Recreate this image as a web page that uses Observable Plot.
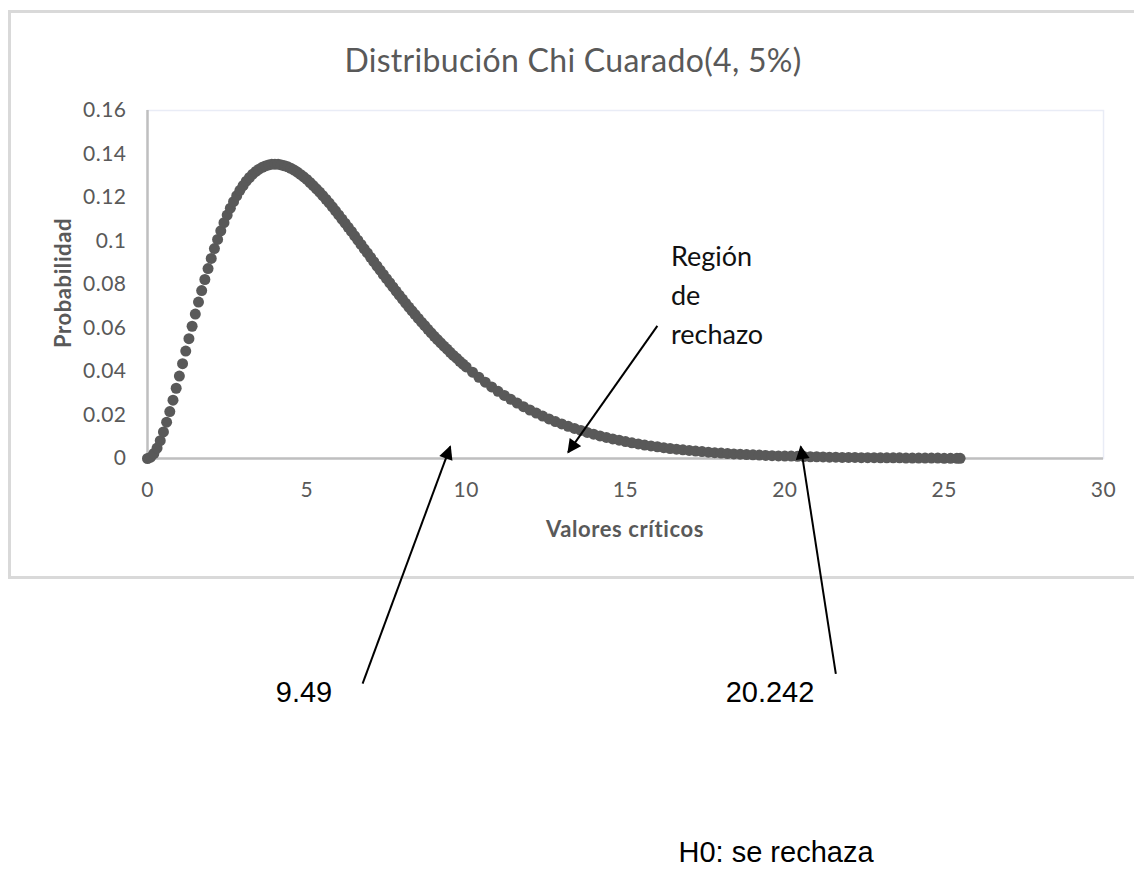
<!DOCTYPE html>
<html>
<head>
<meta charset="utf-8">
<script src="https://cdn.jsdelivr.net/npm/d3@7"></script>
<script src="https://cdn.jsdelivr.net/npm/@observablehq/plot@0.6"></script>
<style>
  html, body { margin: 0; padding: 0; background: #fff; }
  #wrap { position: relative; width: 1134px; height: 889px; overflow: hidden; font-family: Lato, "Open Sans", sans-serif; }
  #wrap svg { position: absolute; left: 0; top: 0; }
  .box { position: absolute; left: 8px; top: 10px; width: 1140px; height: 569px; border: 3px solid #d9d9d9; border-right: none; box-sizing: border-box; }
  .lbl { position: absolute; white-space: nowrap; }
  .title { left: 0; width: 1146px; top: 40px; text-align: center; font-size: 32px; color: #595959; letter-spacing: 0.3px; }
  .xtitle { left: 147px; width: 956px; top: 515px; text-align: center; font-size: 22px; font-weight: bold; color: #595959; letter-spacing: 0.6px; }
  .ytitle { left: 62px; top: 283px; transform: translate(-50%, -50%) rotate(-90deg); font-size: 22px; font-weight: bold; color: #595959; letter-spacing: 0.6px; }
  .region { left: 671px; top: 236px; font-size: 27px; line-height: 39px; color: #111; }
  .crit { font-family: "Liberation Sans", Arial, sans-serif; font-size: 29px; color: #000; transform: translate(-50%, -50%); }
</style>
</head>
<body>
<div id="wrap">
  <div class="box"></div>
</div>
<script>
// Chi-square curve (x = critical values, y = probability)
const xValues = [
  0,0.1,0.2,0.3,0.4,0.5,0.6,0.7,0.8,0.9,1.0,1.1,1.2,1.3,1.4,1.5,1.6,1.7,1.8,1.9,
  2.0,2.1,2.2,2.3,2.4,2.5,2.6,2.7,2.8,2.9,3.0,3.1,3.2,3.3,3.4,3.5,3.6,3.7,3.8,3.9,
  4.0,4.1,4.2,4.3,4.4,4.5,4.6,4.7,4.8,4.9,5.0,5.1,5.2,5.3,5.4,5.5,5.6,5.7,5.8,5.9,
  6.0,6.1,6.2,6.3,6.4,6.5,6.6,6.7,6.8,6.9,7.0,7.1,7.2,7.3,7.4,7.5,7.6,7.7,7.8,7.9,
  8.0,8.1,8.2,8.3,8.4,8.5,8.6,8.7,8.8,8.9,9.0,9.1,9.2,9.3,9.4,9.5,9.6,9.7,9.8,9.9,
  10.0,10.2,10.4,10.6,10.8,11.0,11.2,11.4,11.6,11.8,12.0,12.2,12.4,12.6,12.8,
  13.0,13.2,13.4,13.6,13.8,14.0,14.2,14.4,14.6,14.8,15.0,15.2,15.4,15.6,15.8,
  16.0,16.2,16.4,16.6,16.8,17.0,17.2,17.4,17.6,17.8,18.0,18.2,18.4,18.6,18.8,
  19.0,19.2,19.4,19.6,19.8,20.0,20.2,20.4,20.6,20.8,21.0,21.2,21.4,21.6,21.8,
  22.0,22.2,22.4,22.6,22.8,23.0,23.2,23.4,23.6,23.8,24.0,24.2,24.4,24.6,24.8,
  25.0,25.2,25.4,25.5
];
const yValues = [
  0,0.0006,0.0023,0.0048,0.0082,0.0122,0.0167,0.0216,0.0268,0.0323,0.0379,0.0436,0.0494,0.0551,0.0608,0.0664,0.0719,0.0772,0.0823,0.0873,
  0.0920,0.0965,0.1007,0.1047,0.1084,0.1119,0.1151,0.1181,0.1208,0.1233,0.1255,0.1275,0.1292,0.1307,0.1320,0.1330,0.1339,0.1345,0.1350,0.1353,
  0.1353,0.1353,0.1350,0.1346,0.1341,0.1334,0.1326,0.1317,0.1306,0.1295,0.1283,0.1269,0.1255,0.1240,0.1225,0.1209,0.1192,0.1175,0.1157,0.1139,
  0.1120,0.1101,0.1082,0.1063,0.1044,0.1024,0.1004,0.0984,0.0964,0.0945,0.0925,0.0905,0.0885,0.0866,0.0846,0.0827,0.0808,0.0789,0.0770,0.0751,
  0.0733,0.0714,0.0696,0.0679,0.0662,0.0644,0.0627,0.0611,0.0594,0.0578,0.0562,0.0547,0.0532,0.0517,0.0503,0.0488,0.0474,0.0461,0.0447,0.0434,
  0.0421,0.0397,0.0373,0.0351,0.0329,0.0309,0.0290,0.0272,0.0255,0.0238,0.0223,0.0209,0.0195,0.0182,0.0170,
  0.0159,0.0148,0.0138,0.0129,0.0120,0.0112,0.0104,0.0097,0.0090,0.0084,0.0078,0.0072,0.0067,0.0062,0.0058,
  0.0054,0.0050,0.0046,0.0043,0.0040,0.0037,0.0034,0.0032,0.0029,0.0027,0.0025,0.0023,0.0021,0.0020,0.0018,
  0.0017,0.0016,0.0014,0.0013,0.0012,0.0011,0.0011,0.0010,0.0009,0.0008,0.0008,0.0007,0.0006,0.0006,0.0005,
  0.0005,0.0005,0.0004,0.0004,0.0004,0.0003,0.0003,0.0003,0.0003,0.0002,0.0002,0.0002,0.0002,0.0002,0.0002,
  0.0001,0.0001,0.0001,0.0001
];
const xTicks = [0, 5, 10, 15, 20, 25, 30];
const yTicks = [0, 0.02, 0.04, 0.06, 0.08, 0.1, 0.12, 0.14, 0.16];

const titleText = "Distribución Chi Cuarado(4, 5%)";
const xTitle = "Valores críticos";
const yTitle = "Probabilidad";
const regionLines = ["Región", "de", "rechazo"];
const criticalLabels = ["9.49", "20.242"];
const conclusion = "H0: se rechaza";

// annotation arrows (tail -> head) in chart units
const arrowX1 = [6.75, 21.6, 16.0];
const arrowY1 = [-0.1035, -0.099, 0.061];
const arrowX2 = [9.5, 20.5, 13.2];
const arrowY2 = [0.0055, 0.0055, 0.0028];

const points = xValues.map((x, i) => ({x, y: yValues[i]}));
const arrows = arrowX1.map((x1, i) => ({x1, y1: arrowY1[i], x2: arrowX2[i], y2: arrowY2[i]}));

const chart = Plot.plot({
  width: 1134,
  height: 889,
  marginLeft: 147,
  marginRight: 31,
  marginTop: 110,
  marginBottom: 431,
  style: {fontFamily: "Lato, 'Open Sans', sans-serif", fontSize: "21px", color: "#595959", background: "transparent", overflow: "visible", letterSpacing: "0.5px"},
  x: {domain: [0, 30], ticks: xTicks, tickSize: 0, tickPadding: 24, label: null, tickFormat: d => String(d)},
  y: {domain: [0, 0.16], ticks: yTicks, tickSize: 0, tickPadding: 21, label: null, tickFormat: d => String(d)},
  marks: [
    Plot.frame({stroke: "#e9ecf6", strokeWidth: 1.5}),
    Plot.ruleY([0], {stroke: "#bfbfbf", strokeWidth: 2.5}),
    Plot.ruleX([0], {stroke: "#bfbfbf", strokeWidth: 2.5}),
    Plot.dot(points, {x: "x", y: "y", r: 5.5, fill: "#595959", stroke: "none"}),
    Plot.link(arrows, {x1: "x1", y1: "y1", x2: "x2", y2: "y2", stroke: "#000", strokeWidth: 2, clip: false})
  ]
});

// filled arrowheads on the annotation links
const svg = chart.tagName.toLowerCase() === "svg" ? chart : chart.querySelector("svg");
const ns = "http://www.w3.org/2000/svg";
const defs = document.createElementNS(ns, "defs");
const marker = document.createElementNS(ns, "marker");
marker.setAttribute("id", "headFilled");
marker.setAttribute("viewBox", "0 0 10 10");
marker.setAttribute("refX", "9");
marker.setAttribute("refY", "5");
marker.setAttribute("markerWidth", "7.5");
marker.setAttribute("markerHeight", "7");
marker.setAttribute("markerUnits", "strokeWidth");
marker.setAttribute("orient", "auto");
const mp = document.createElementNS(ns, "path");
mp.setAttribute("d", "M0,0L10,5L0,10z");
mp.setAttribute("fill", "#000");
marker.appendChild(mp);
defs.appendChild(marker);
svg.insertBefore(defs, svg.firstChild);
svg.querySelectorAll("g[aria-label='link'] path, g[aria-label='link'] line").forEach(p => p.setAttribute("marker-end", "url(#headFilled)"));
svg.querySelectorAll("[aria-label='y-axis tick label'] text, [aria-label='x-axis tick label'] text").forEach(t => t.setAttribute("fill", "#595959"));

const wrap = document.getElementById("wrap");
wrap.appendChild(chart);

function addLabel(cls, html, left, top) {
  const d = document.createElement("div");
  d.className = "lbl " + cls;
  d.innerHTML = html;
  if (left != null) d.style.left = left + "px";
  if (top != null) d.style.top = top + "px";
  wrap.appendChild(d);
  return d;
}
addLabel("title", titleText);
addLabel("xtitle", xTitle);
addLabel("ytitle", yTitle);
addLabel("region", regionLines.join("<br>"));
addLabel("crit", criticalLabels[0], 304, 692);
addLabel("crit", criticalLabels[1], 770, 692);
addLabel("crit", conclusion, 776, 852);
</script>
</body>
</html>
